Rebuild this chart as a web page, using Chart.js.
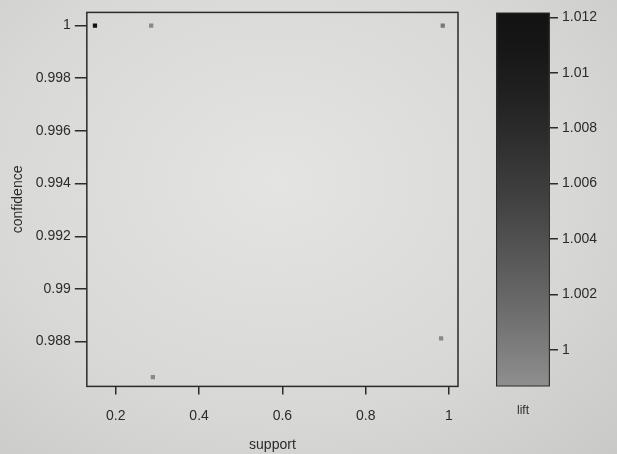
<html lang="en">

<head>
    <meta charset="UTF-8">
    <title>confidence vs support</title>
    <script src="https://cdn.jsdelivr.net/npm/chart.js"></script>
    <style>
        body { margin: 0; width: 617px; height: 454px; overflow: hidden;
               background: radial-gradient(ellipse at 45% 40%, #e4e4e2 0%, #d8d8d6 60%, #c9c9c7 100%); }
        #main { position: absolute; left: 0; top: 0; }
        #bar { position: absolute; left: 480px; top: 0; }
    </style>
</head>

<body>
    <canvas id="main" width="480" height="454"></canvas>
    <canvas id="bar" width="137" height="454"></canvas>

    <script>
        // rules: support, confidence, lift
        const support = [0.15, 0.285, 0.985, 0.981, 0.289];
        const confidence = [1.0, 1.0, 1.0, 0.98812, 0.98665];
        const lift = [1.012, 0.9992, 1.0005, 0.9992, 0.9992];

        const xTicks = [0.2, 0.4, 0.6, 0.8, 1];
        const yTicks = [0.988, 0.99, 0.992, 0.994, 0.996, 0.998, 1];
        const liftTicks = [1, 1.002, 1.004, 1.006, 1.008, 1.01, 1.012];
        const liftMin = 0.99867, liftMax = 1.01218;

        const ink = '#2b2b2b';
        Chart.defaults.font.family = "'Liberation Sans', Arial, sans-serif";
        Chart.defaults.font.size = 14;
        Chart.defaults.color = ink;

        // grey shade for a lift value (dark = high)
        function grey(v) {
            let t = Math.min(1, Math.max(0, (v - liftMin) / (liftMax - liftMin)));
            let g = Math.round(18 + 125 * Math.pow(1 - t, 1.4));
            return 'rgb(' + g + ',' + g + ',' + g + ')';
        }

        const fmt = v => String(+Number(v).toFixed(3));

        // box round the plot area
        const boxPlugin = {
            id: 'box',
            afterDraw(chart) {
                let a = chart.chartArea, c = chart.ctx;
                c.save();
                c.strokeStyle = ink;
                c.lineWidth = 1.5;
                c.strokeRect(a.left, a.top, a.right - a.left, a.bottom - a.top);
                c.restore();
            }
        };

        let points = support.map((s, i) => ({ x: s, y: confidence[i] }));

        new Chart(document.getElementById('main'), {
            type: 'scatter',
            data: {
                datasets: [{
                    data: points,
                    pointStyle: 'rect',
                    pointRadius: 3,
                    borderWidth: 0,
                    backgroundColor: lift.map(grey)
                }]
            },
            options: {
                responsive: false,
                animation: false,
                layout: { padding: { left: 10, top: 12, right: 22, bottom: 0 } },
                plugins: { legend: { display: false }, tooltip: { enabled: false } },
                scales: {
                    x: {
                        min: 0.1305, max: 1.0216,
                        afterBuildTicks: s => { s.ticks = xTicks.map(v => ({ value: v })); },
                        ticks: { callback: fmt, padding: 13, maxRotation: 0 },
                        grid: { drawOnChartArea: false, tickLength: 8, color: ink, lineWidth: 1.5 },
                        border: { display: false },
                        title: { display: true, text: 'support', padding: { top: 0, bottom: 0 } }
                    },
                    y: {
                        min: 0.9863, max: 1.0005,
                        afterBuildTicks: s => { s.ticks = yTicks.map(v => ({ value: v })); },
                        ticks: { callback: fmt, padding: 4 },
                        grid: { drawOnChartArea: false, tickLength: 12, color: ink, lineWidth: 1.5 },
                        border: { display: false },
                        title: { display: true, text: 'confidence', padding: { top: 0, bottom: 5 } }
                    }
                }
            },
            plugins: [boxPlugin]
        });

        // colour key for lift
        new Chart(document.getElementById('bar'), {
            type: 'bar',
            data: {
                labels: ['lift'],
                datasets: [{
                    data: [[liftMin, liftMax]],
                    barPercentage: 1,
                    categoryPercentage: 1,
                    borderWidth: 1.5,
                    borderColor: ink,
                    borderSkipped: false,
                    backgroundColor: ctx => {
                        let a = ctx.chart.chartArea;
                        if (!a) return grey(1.006);
                        let g = ctx.chart.ctx.createLinearGradient(0, a.bottom, 0, a.top);
                        for (let i = 0; i <= 10; i++) {
                            g.addColorStop(i / 10, grey(liftMin + (liftMax - liftMin) * i / 10));
                        }
                        return g;
                    }
                }]
            },
            options: {
                responsive: false,
                animation: false,
                layout: { padding: { left: 16, top: 8, right: 16, bottom: 27 } },
                plugins: { legend: { display: false }, tooltip: { enabled: false } },
                scales: {
                    x: {
                        grid: { display: false },
                        border: { display: false },
                        ticks: { font: { size: 12 }, padding: 9 }
                    },
                    y: {
                        position: 'right',
                        min: liftMin, max: liftMax,
                        afterBuildTicks: s => { s.ticks = liftTicks.map(v => ({ value: v })); },
                        ticks: { callback: fmt, padding: 4 },
                        grid: { drawOnChartArea: false, tickLength: 8, color: ink, lineWidth: 1.5 },
                        border: { display: false }
                    }
                }
            }
        });
    </script>
</body>

</html>
